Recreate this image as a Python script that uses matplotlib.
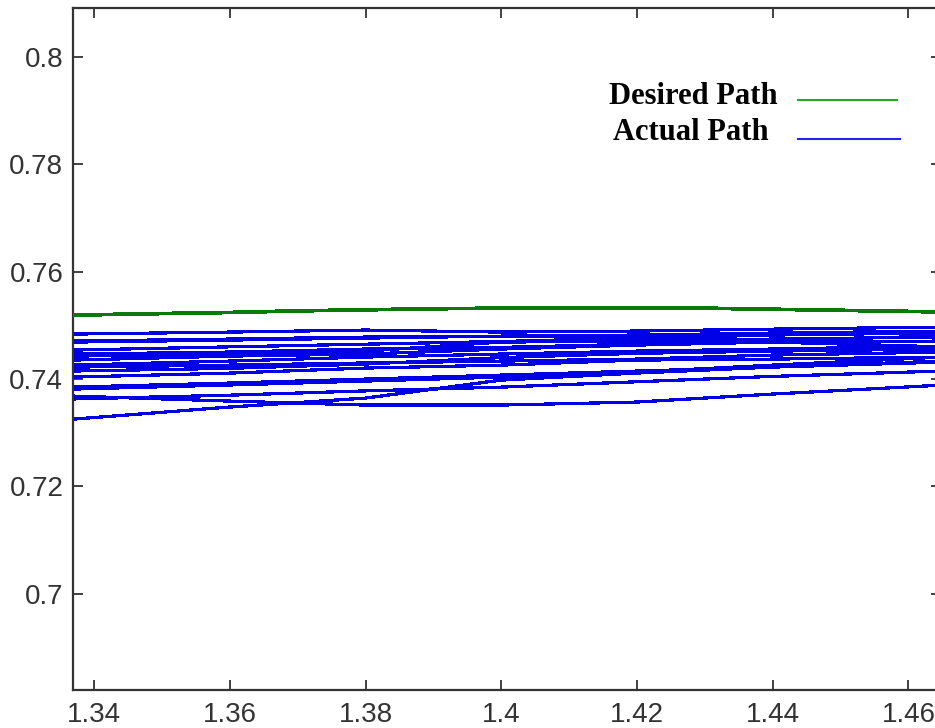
import matplotlib
matplotlib.use("Agg")
import matplotlib.pyplot as plt
from matplotlib.lines import Line2D

x_samples = [1.337, 1.36, 1.38, 1.40, 1.42, 1.44, 1.465]

# Desired path (green)
desired_x = [1.337, 1.345, 1.36, 1.37, 1.38, 1.39, 1.40, 1.41, 1.42, 1.43, 1.44, 1.45, 1.465]
desired_y = [0.7519, 0.7521, 0.7524, 0.7527, 0.7529, 0.7531, 0.7532, 0.7532, 0.7532, 0.7532, 0.7530, 0.7528, 0.7525]

# Actual path laps (blue), y at each x sample
actual_laps = [
    [0.73255, 0.73479, 0.73646, 0.73981, 0.74112, 0.74223, 0.74335],
    [0.73683, 0.73590, 0.73516, 0.73516, 0.73572, 0.73721, 0.73888],
    [0.73851, 0.73926, 0.74000, 0.74074, 0.74149, 0.74223, 0.74316],
    [0.73814, 0.73890, 0.73963, 0.74037, 0.74130, 0.74260, 0.74410],
    [0.74223, 0.74260, 0.74300, 0.74335, 0.74372, 0.74447, 0.74503],
    [0.74260, 0.74335, 0.74410, 0.74466, 0.74521, 0.74559, 0.74614],
    [0.74354, 0.74428, 0.74466, 0.74559, 0.74633, 0.74689, 0.74708],
    [0.74466, 0.74503, 0.74559, 0.74590, 0.74650, 0.74726, 0.74800],
    [0.74708, 0.74745, 0.74782, 0.74800, 0.74820, 0.74857, 0.74894],
    [0.74838, 0.74875, 0.74913, 0.74875, 0.74894, 0.74930, 0.74968],
    [0.74689, 0.74726, 0.74763, 0.74800, 0.74763, 0.74689, 0.74600],
    [0.74428, 0.74466, 0.74521, 0.74689, 0.74708, 0.74745, 0.74782],
    [0.74037, 0.74111, 0.74205, 0.74260, 0.74354, 0.74372, 0.74410],
    [0.73630, 0.73700, 0.73780, 0.73850, 0.73950, 0.74050, 0.74150],
    [0.74540, 0.74600, 0.74650, 0.74700, 0.74760, 0.74820, 0.74860],
    [0.74150, 0.74200, 0.74280, 0.74400, 0.74480, 0.74520, 0.74560],
]

x_ticks = [1.34, 1.36, 1.38, 1.40, 1.42, 1.44, 1.46]
x_tick_labels = ["1.34", "1.36", "1.38", "1.4", "1.42", "1.44", "1.46"]
y_ticks = [0.70, 0.72, 0.74, 0.76, 0.78, 0.80]
y_tick_labels = ["0.7", "0.72", "0.74", "0.76", "0.78", "0.8"]

W, H = 935, 728
fig = plt.figure(figsize=(W / 100, H / 100), dpi=100)
ax = fig.add_axes([73 / W, 38 / H, (941 - 73) / W, (690 - 8) / H])

for lap in actual_laps:
    ax.plot(x_samples, lap, color="#0000e6", lw=1.6, antialiased=False, zorder=2)
ax.plot(desired_x, desired_y, color="#0a7a0a", lw=2.0, antialiased=False, zorder=3)

ax.set_xlim(1.3369, 1.4648)
ax.set_ylim(0.6821, 0.8091)
ax.set_xticks(x_ticks)
ax.set_xticklabels(x_tick_labels)
ax.set_yticks(y_ticks)
ax.set_yticklabels(y_tick_labels)

for s in ax.spines.values():
    s.set_linewidth(1.6)
    s.set_color("#333333")
ax.tick_params(direction="in", length=7, width=1.3, color="#333333",
               top=True, right=True, labelsize=20, labelcolor="#333333")
ax.tick_params(axis="x", pad=8.5)
ax.tick_params(axis="y", pad=7)
for lab in ax.get_xticklabels() + ax.get_yticklabels():
    lab.set_fontfamily("Liberation Sans")

# legend (text left, sample line right), as in the reference
legend_font = {"family": "Liberation Serif", "weight": "bold", "size": 22}
fig.text(609 / W, 1 - 96 / H, "Desired Path", ha="left", va="center", **legend_font)
fig.text(613 / W, 1 - 132 / H, "Actual Path", ha="left", va="center", **legend_font)
fig.add_artist(Line2D([798 / W, 897 / W], [1 - 100 / H, 1 - 100 / H],
                      transform=fig.transFigure, color="#22aa22", lw=1.5))
fig.add_artist(Line2D([798 / W, 900 / W], [1 - 139 / H, 1 - 139 / H],
                      transform=fig.transFigure, color="#2222ff", lw=1.5))

fig.savefig("out.png", dpi=100)
